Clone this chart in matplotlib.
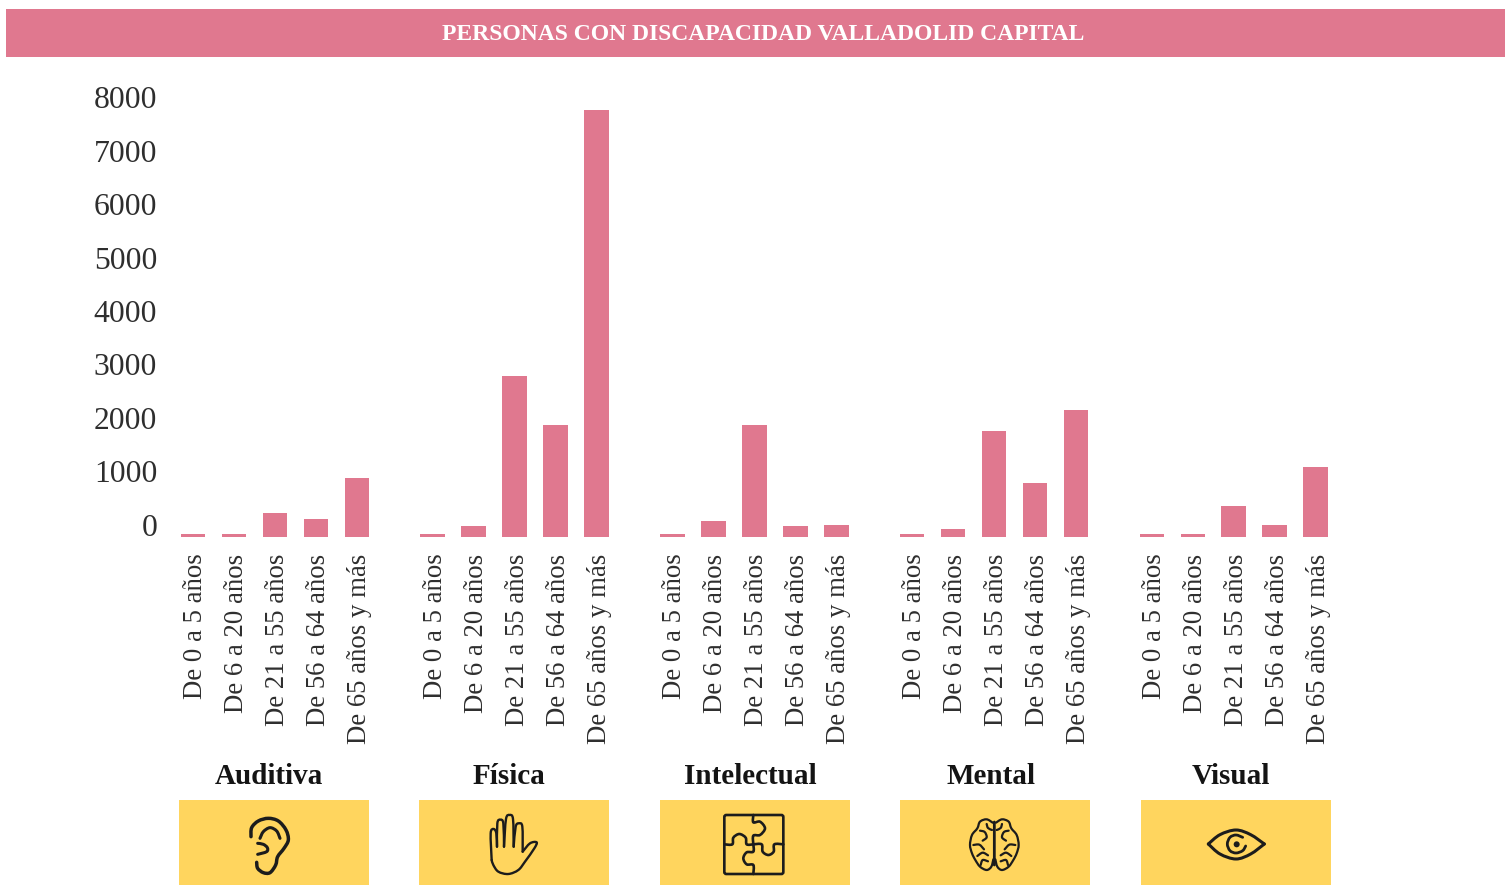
import numpy as np
import matplotlib
matplotlib.use("Agg")
import matplotlib.pyplot as plt
from matplotlib.path import Path
from matplotlib.patches import PathPatch, Rectangle, Circle, FancyBboxPatch
from matplotlib.transforms import ScaledTranslation

W, H = 1505, 885
PINK = "#E0788F"
YELLOW = "#FFD55E"
INK = "#1c1c1c"

title = "PERSONAS CON DISCAPACIDAD VALLADOLID CAPITAL"
groups = ["Auditiva", "Física", "Intelectual", "Mental", "Visual"]
ages = ["De 0 a 5 años", "De 6 a 20 años", "De 21 a 55 años", "De 56 a 64 años", "De 65 años y más"]
auditiva = [50, 50, 450, 340, 1105]
fisica = [50, 205, 3015, 2100, 8000]
intelectual = [50, 300, 2100, 205, 225]
mental = [60, 150, 1985, 1010, 2380]
visual = [60, 60, 580, 225, 1310]
series = [auditiva, fisica, intelectual, mental, visual]
yticks = [0, 1000, 2000, 3000, 4000, 5000, 6000, 7000, 8000]

fig = plt.figure(figsize=(W / 100, H / 100), dpi=100, facecolor="white")
SERIF = ["Liberation Serif", "DejaVu Serif"]

# main chart axes: 41 px per bar slot, 239.7 px per group
ax_l, ax_r, ax_t, ax_b = 160, 1350, 110, 537
ax = fig.add_axes([ax_l / W, 1 - ax_b / H, (ax_r - ax_l) / W, (ax_b - ax_t) / H])
group_step = 239.7 / 41
x0_px = 193
ax.set_xlim((ax_l - x0_px) / 41, (ax_r - x0_px) / 41)
ax.set_ylim(0, 8000)
xs, vals, labs = [], [], []
for g, s in enumerate(series):
    for i, v in enumerate(s):
        xs.append(g * group_step + i)
        vals.append(v)
        labs.append(ages[i])
ax.bar(xs, vals, width=0.6, color=PINK, linewidth=0)
for sp in ax.spines.values():
    sp.set_visible(False)
ax.set_xticks(xs)
ax.set_xticklabels(labs, rotation=90, fontsize=19.3, family=SERIF, color="#2e2e2e", ha="center", va="top")
ax.set_yticks(yticks)
ax.set_yticklabels([str(t) for t in yticks], fontsize=22.8, family=SERIF, color="#2e2e2e")
ax.tick_params(axis="both", length=0)
ax.tick_params(axis="x", pad=12)
ax.tick_params(axis="y", pad=2)
lift = ScaledTranslation(0, 12.5 / 100, fig.dpi_scale_trans)
for lb in ax.get_yticklabels():
    lb.set_transform(lb.get_transform() + lift)
shift = ScaledTranslation(2.5 / 100, 0, fig.dpi_scale_trans)
for lb in ax.get_xticklabels():
    lb.set_transform(lb.get_transform() + shift)

# overlay in pixel coordinates: banner, category boxes and pictograms
ov = fig.add_axes([0, 0, 1, 1], zorder=3)
ov.set_xlim(0, W)
ov.set_ylim(H, 0)
ov.axis("off")
ov.add_patch(Rectangle((6, 8.5), W - 6, 48.5, color=PINK, lw=0))
ov.text(763, 34, title, color="white", fontsize=17, fontweight="bold", family=SERIF, ha="center", va="center")

box_left = [179, 419, 660, 900, 1141]
label_cx = [269, 509, 750, 991, 1231]
for g, name in enumerate(groups):
    ov.add_patch(Rectangle((box_left[g], 800), 190, 90, color=YELLOW, lw=0))
    ov.text(label_cx[g], 777, name, fontsize=21, fontweight="bold", family=SERIF, color="#141414", ha="center", va="center")


def smooth(points, origin, closed=False):
    """Catmull-Rom curve through zoomed-crop icon points (crop scale 3x)."""
    p = np.asarray(points, float) / 3 + np.asarray(origin, float)
    if closed:
        q = np.vstack([p[-1], p, p[0], p[1]])
    else:
        q = np.vstack([p[0], p, p[-1]])
    verts, codes = [q[1]], [Path.MOVETO]
    for k in range(1, len(q) - 2):
        c1 = q[k] + (q[k + 1] - q[k - 1]) / 6
        c2 = q[k + 1] - (q[k + 2] - q[k]) / 6
        verts += [c1, c2, q[k + 1]]
        codes += [Path.CURVE4] * 3
    return Path(verts, codes)


def stroke(points, origin, lw=2.0, closed=False):
    ov.add_patch(PathPatch(smooth(points, origin, closed), fc="none", ec=INK, lw=lw,
                           capstyle="round", joinstyle="round"))


# ear
o = (235, 805)
stroke([(48, 95), (50, 68), (70, 48), (100, 40), (130, 48), (153, 75), (160, 105), (147, 130),
        (128, 155), (122, 180), (105, 203), (85, 203), (68, 190), (65, 172)], o, 2.5)
stroke([(75, 100), (85, 80), (105, 68), (125, 78), (135, 100)], o, 2.2)
stroke([(68, 115), (85, 118), (97, 128), (95, 140), (68, 148)], o, 2.2)

# hand
o = (475, 805)
stroke([(50, 165), (47, 85), (56, 72), (64, 85), (66, 125)], o, 1.7)
stroke([(66, 125), (67, 55), (76, 44), (85, 55), (87, 125)], o, 1.7)
stroke([(87, 125), (93, 42), (104, 30), (114, 42), (116, 125)], o, 1.7)
stroke([(116, 125), (122, 65), (132, 55), (142, 65), (143, 140)], o, 1.7)
stroke([(143, 140), (165, 115), (185, 112), (178, 130), (150, 170), (130, 195), (100, 207),
        (70, 200), (55, 180), (50, 165)], o, 1.7)

# puzzle
o = (715, 805)
ov.add_patch(FancyBboxPatch((o[0] + 28 / 3 + 2, o[1] + 30 / 3 + 2), 177 / 3 - 4, 177 / 3 - 4,
                            boxstyle="round,pad=2", fc="none", ec=INK, lw=1.9))
stroke([(115, 30), (115, 52), (135, 50), (150, 70), (135, 90), (115, 92), (115, 118)], o, 1.9)
stroke([(28, 118), (52, 118), (55, 98), (73, 87), (92, 98), (95, 118), (115, 118)], o, 1.9)
stroke([(115, 118), (140, 118), (143, 140), (160, 150), (176, 140), (178, 118), (205, 118)], o, 1.9)
stroke([(115, 118), (115, 140), (95, 142), (85, 160), (95, 178), (115, 180), (115, 207)], o, 1.9)

# brain
o = (960, 810)
cx = 103
left = [(98, 38), (80, 28), (60, 35), (52, 55), (36, 75), (30, 105), (36, 130), (46, 150),
        (60, 170), (80, 180), (94, 170), (100, 148)]
folds = [[(60, 62), (74, 66), (80, 82), (68, 92)],
         [(40, 105), (58, 104), (72, 118)],
         [(52, 138), (68, 128), (84, 136)],
         [(62, 165), (68, 150), (84, 154)],
         [(80, 42), (84, 54), (96, 60)]]
for line in [left] + folds:
    stroke(line, o, 1.6)
    stroke([(2 * cx - a, b) for a, b in line], o, 1.6)
stroke([(cx, 36), (cx, 165)], o, 2.0)

# eye
o = (1200, 820)
stroke([(25, 72), (60, 44), (108, 30), (152, 44), (193, 72)], o, 2.2)
stroke([(25, 72), (60, 102), (108, 117), (152, 102), (193, 72)], o, 2.2)
stroke([(128, 52), (108, 45), (90, 52), (82, 72), (90, 92), (108, 99), (128, 92), (137, 78)], o, 2.0)
ov.add_patch(Circle((o[0] + 110 / 3, o[1] + 73 / 3), 3, color=INK, lw=0))

fig.savefig("out.png", dpi=100, facecolor="white")
